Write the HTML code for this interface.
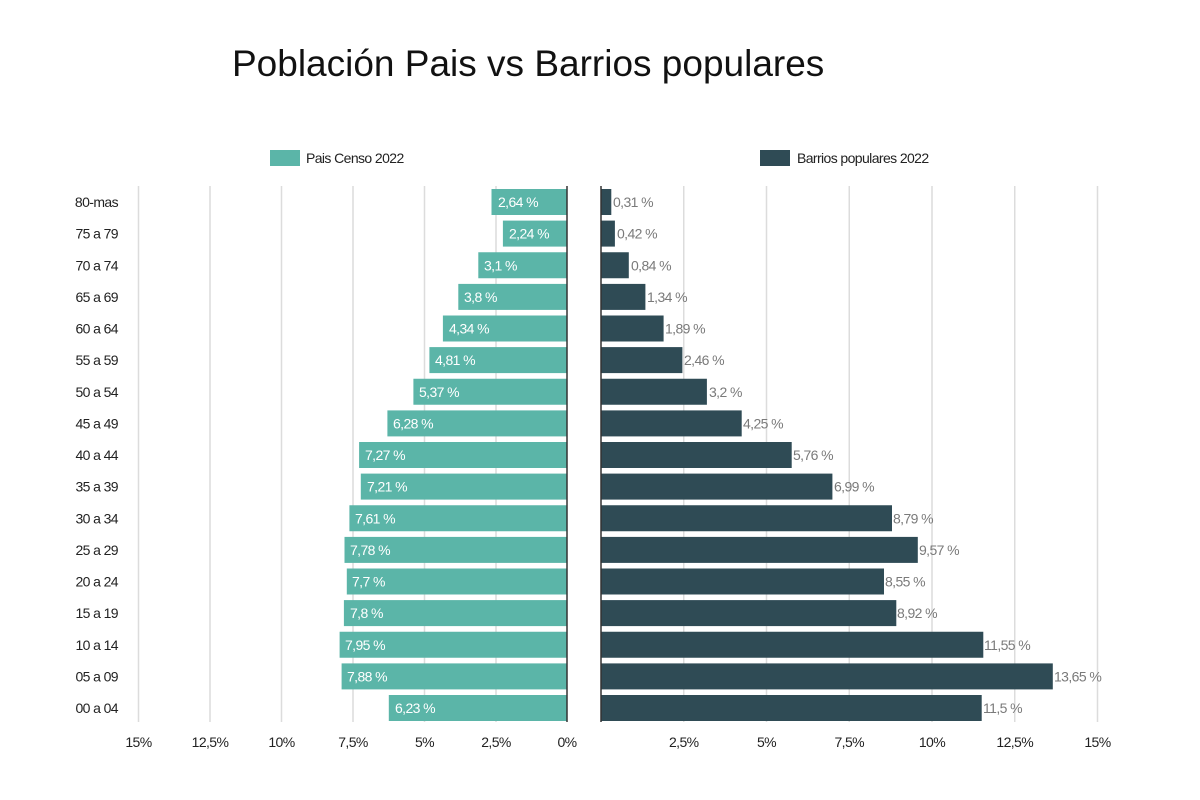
<!DOCTYPE html>
<html><head><meta charset="utf-8"><style>
html,body{margin:0;padding:0;background:#fff;}
svg{display:block;}
text{font-family:"Liberation Sans",sans-serif;}
.s{letter-spacing:-0.6px;}
</style></head><body>
<svg width="1200" height="800" viewBox="0 0 1200 800" xmlns="http://www.w3.org/2000/svg">
<rect width="1200" height="800" fill="#fff"/>
<text x="232" y="76" font-size="37" fill="#111">Población Pais vs Barrios populares</text>
<rect x="270" y="150" width="30" height="16" fill="#5bb5a8"/>
<text class="s" x="306" y="163" font-size="14" fill="#222">Pais Censo 2022</text>
<rect x="760" y="150" width="30" height="16" fill="#2f4b55"/>
<text class="s" x="797" y="163" font-size="14" fill="#222">Barrios populares 2022</text>
<g stroke="#dcdcdc" stroke-width="1.5">
<line x1="138.5" y1="186" x2="138.5" y2="722"/><line x1="210" y1="186" x2="210" y2="722"/><line x1="281.5" y1="186" x2="281.5" y2="722"/><line x1="353" y1="186" x2="353" y2="722"/><line x1="424.5" y1="186" x2="424.5" y2="722"/><line x1="496" y1="186" x2="496" y2="722"/>
<line x1="683.75" y1="186" x2="683.75" y2="722"/><line x1="766.5" y1="186" x2="766.5" y2="722"/><line x1="849.25" y1="186" x2="849.25" y2="722"/><line x1="932" y1="186" x2="932" y2="722"/><line x1="1014.75" y1="186" x2="1014.75" y2="722"/><line x1="1097.5" y1="186" x2="1097.5" y2="722"/>
</g>
<g fill="#5bb5a8">
<rect x="491.5" y="189" width="75.5" height="26"/>
<rect x="502.9" y="220.6" width="64.1" height="26"/>
<rect x="478.3" y="252.25" width="88.7" height="26"/>
<rect x="458.3" y="283.9" width="108.7" height="26"/>
<rect x="442.9" y="315.5" width="124.1" height="26"/>
<rect x="429.4" y="347.1" width="137.6" height="26"/>
<rect x="413.4" y="378.75" width="153.6" height="26"/>
<rect x="387.4" y="410.4" width="179.6" height="26"/>
<rect x="359.1" y="442" width="207.9" height="26"/>
<rect x="360.8" y="473.6" width="206.2" height="26"/>
<rect x="349.4" y="505.25" width="217.6" height="26"/>
<rect x="344.5" y="536.9" width="222.5" height="26"/>
<rect x="346.8" y="568.5" width="220.2" height="26"/>
<rect x="343.9" y="600.1" width="223.1" height="26"/>
<rect x="339.6" y="631.75" width="227.4" height="26"/>
<rect x="341.6" y="663.4" width="225.4" height="26"/>
<rect x="388.8" y="695" width="178.2" height="26"/>
</g>
<g fill="#2f4b55">
<rect x="601" y="189" width="10.3" height="26"/>
<rect x="601" y="220.6" width="13.9" height="26"/>
<rect x="601" y="252.25" width="27.8" height="26"/>
<rect x="601" y="283.9" width="44.4" height="26"/>
<rect x="601" y="315.5" width="62.6" height="26"/>
<rect x="601" y="347.1" width="81.4" height="26"/>
<rect x="601" y="378.75" width="105.9" height="26"/>
<rect x="601" y="410.4" width="140.7" height="26"/>
<rect x="601" y="442" width="190.7" height="26"/>
<rect x="601" y="473.6" width="231.4" height="26"/>
<rect x="601" y="505.25" width="291" height="26"/>
<rect x="601" y="536.9" width="316.8" height="26"/>
<rect x="601" y="568.5" width="283" height="26"/>
<rect x="601" y="600.1" width="295.3" height="26"/>
<rect x="601" y="631.75" width="382.3" height="26"/>
<rect x="601" y="663.4" width="451.8" height="26"/>
<rect x="601" y="695" width="380.7" height="26"/>
</g>
<line x1="567" y1="186" x2="567" y2="722" stroke="#333" stroke-width="1.5"/>
<line x1="601" y1="186" x2="601" y2="722" stroke="#333" stroke-width="1.5"/>
<g class="s" font-size="14" fill="#fff">
<text x="498" y="207">2,64 %</text>
<text x="509" y="238.6">2,24 %</text>
<text x="484" y="270.25">3,1 %</text>
<text x="464" y="301.9">3,8 %</text>
<text x="449" y="333.5">4,34 %</text>
<text x="435" y="365.1">4,81 %</text>
<text x="419" y="396.75">5,37 %</text>
<text x="393" y="428.4">6,28 %</text>
<text x="365" y="460">7,27 %</text>
<text x="367" y="491.6">7,21 %</text>
<text x="355" y="523.25">7,61 %</text>
<text x="350" y="554.9">7,78 %</text>
<text x="352" y="586.5">7,7 %</text>
<text x="350" y="618.1">7,8 %</text>
<text x="345" y="649.75">7,95 %</text>
<text x="347" y="681.4">7,88 %</text>
<text x="395" y="713">6,23 %</text>
</g>
<g class="s" font-size="14" fill="#7a7a7a">
<text x="613" y="207">0,31 %</text>
<text x="617" y="238.6">0,42 %</text>
<text x="631" y="270.25">0,84 %</text>
<text x="647" y="301.9">1,34 %</text>
<text x="665" y="333.5">1,89 %</text>
<text x="684" y="365.1">2,46 %</text>
<text x="709" y="396.75">3,2 %</text>
<text x="743" y="428.4">4,25 %</text>
<text x="793" y="460">5,76 %</text>
<text x="834" y="491.6">6,99 %</text>
<text x="893" y="523.25">8,79 %</text>
<text x="919" y="554.9">9,57 %</text>
<text x="885" y="586.5">8,55 %</text>
<text x="897" y="618.1">8,92 %</text>
<text x="984" y="649.75">11,55 %</text>
<text x="1054" y="681.4">13,65 %</text>
<text x="983" y="713">11,5 %</text>
</g>
<g class="s" font-size="14" fill="#222" text-anchor="end">
<text x="118" y="207">80-mas</text>
<text x="118" y="238.6">75 a 79</text>
<text x="118" y="270.25">70 a 74</text>
<text x="118" y="301.9">65 a 69</text>
<text x="118" y="333.5">60 a 64</text>
<text x="118" y="365.1">55 a 59</text>
<text x="118" y="396.75">50 a 54</text>
<text x="118" y="428.4">45 a 49</text>
<text x="118" y="460">40 a 44</text>
<text x="118" y="491.6">35 a 39</text>
<text x="118" y="523.25">30 a 34</text>
<text x="118" y="554.9">25 a 29</text>
<text x="118" y="586.5">20 a 24</text>
<text x="118" y="618.1">15 a 19</text>
<text x="118" y="649.75">10 a 14</text>
<text x="118" y="681.4">05 a 09</text>
<text x="118" y="713">00 a 04</text>
</g>
<g class="s" font-size="14" fill="#222" text-anchor="middle">
<text x="138.5" y="747">15%</text>
<text x="210" y="747">12,5%</text>
<text x="281.5" y="747">10%</text>
<text x="353" y="747">7,5%</text>
<text x="424.5" y="747">5%</text>
<text x="496" y="747">2,5%</text>
<text x="567" y="747">0%</text>
<text x="683.75" y="747">2,5%</text>
<text x="766.5" y="747">5%</text>
<text x="849.25" y="747">7,5%</text>
<text x="932" y="747">10%</text>
<text x="1014.75" y="747">12,5%</text>
<text x="1097.5" y="747">15%</text>
</g>
</svg>
</body></html>
